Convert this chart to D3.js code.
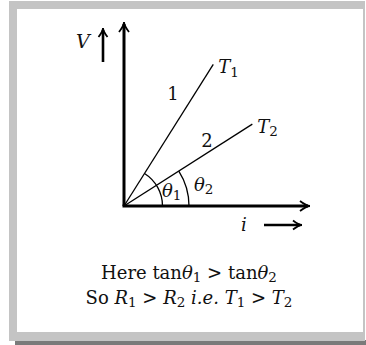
<!DOCTYPE html>
<html>
<head>
<meta charset="utf-8">
<script src="https://cdn.jsdelivr.net/npm/d3@7"></script>
<style>
  html, body { margin: 0; padding: 0; background: #fff; }
  svg { display: block; }
  text { font-family: "DejaVu Serif", "Liberation Serif", serif; fill: #111; }
</style>
</head>
<body>
<svg id="chart" width="366" height="345"></svg>
<script>
// V–i characteristics of a conductor at two temperatures
const lineNames = ["1", "2"];
const lineTempSub = ["1", "2"];
const lineEndI = [4.8, 6.9];   // current at the end of each drawn line
const lineEndV = [7.7, 4.45];  // voltage at the end of each drawn line
const axisMax = [10, 10];      // [i, V]
const captionLine1 = [
  { t: "Here tan" }, { t: "\u03B8", i: true }, { t: "1", sub: true },
  { t: " > tan" }, { t: "\u03B8", i: true }, { t: "2", sub: true }
];
const captionLine2 = [
  { t: "So " }, { t: "R", i: true }, { t: "1", sub: true }, { t: " > " },
  { t: "R", i: true }, { t: "2", sub: true }, { t: " " }, { t: "i.e.", i: true },
  { t: " " }, { t: "T", i: true }, { t: "1", sub: true }, { t: " > " },
  { t: "T", i: true }, { t: "2", sub: true }
];

const svg = d3.select("#chart");

// frame: grey border, white panel, dark drop shadow at the bottom
svg.append("rect").attr("x", 15).attr("y", 340).attr("width", 351).attr("height", 5).attr("fill", "#7a7a7a");
svg.append("rect").attr("x", 9).attr("y", 1).attr("width", 356).attr("height", 340).attr("fill", "#c4c4c4");
svg.append("rect").attr("x", 17).attr("y", 9).attr("width", 346).attr("height", 323).attr("fill", "#fff");

const x = d3.scaleLinear().domain([0, axisMax[0]]).range([124, 310]);
const y = d3.scaleLinear().domain([0, axisMax[1]]).range([206, 22]);

const g = svg.append("g");

// arrowhead path pointing along +x, tip at origin
function head(len, half) {
  return `M${-len},${-half} Q${-len * 0.35},0 0,0 Q${-len * 0.35},0 ${-len},${half}`;
}

// axes
g.append("line").attr("x1", x(0)).attr("y1", y(0)).attr("x2", x(0)).attr("y2", y(axisMax[1]) + 2)
  .attr("stroke", "#000").attr("stroke-width", 3);
g.append("line").attr("x1", x(0) - 1.5).attr("y1", y(0)).attr("x2", x(axisMax[0]) - 2).attr("y2", y(0))
  .attr("stroke", "#000").attr("stroke-width", 3);
g.append("path").attr("d", head(10, 5)).attr("transform", `translate(${x(0)},${y(axisMax[1])}) rotate(-90)`)
  .attr("fill", "none").attr("stroke", "#000").attr("stroke-width", 1.8);
g.append("path").attr("d", head(10, 5)).attr("transform", `translate(${x(axisMax[0])},${y(0)})`)
  .attr("fill", "none").attr("stroke", "#000").attr("stroke-width", 1.8);

// the two straight lines
const lines = lineNames.map((n, k) => ({ name: n, sub: lineTempSub[k], i: lineEndI[k], v: lineEndV[k] }));
lines.forEach(d => {
  d.px = x(d.i); d.py = y(d.v);
  d.ang = Math.atan2(y(0) - d.py, d.px - x(0));
});
g.selectAll(".vi").data(lines).join("line")
  .attr("x1", x(0)).attr("y1", y(0)).attr("x2", d => d.px).attr("y2", d => d.py)
  .attr("stroke", "#000").attr("stroke-width", 1.3);

// angle arcs
const radii = [38.5, 65];
lines.forEach((d, k) => {
  const arc = d3.arc().innerRadius(radii[k]).outerRadius(radii[k])
    .startAngle(Math.PI / 2 - d.ang).endAngle(Math.PI / 2);
  g.append("path").attr("d", arc()).attr("transform", `translate(${x(0)},${y(0)})`)
    .attr("fill", "none").attr("stroke", "#000").attr("stroke-width", 1.3);
});

// rich text helper: italic pieces and subscripts
function rich(px, py, parts, size, anchor) {
  const t = g.append("text").attr("x", px).attr("y", py).attr("font-size", size)
    .attr("text-anchor", anchor || "start");
  let lowered = false;
  parts.forEach(p => {
    const s = t.append("tspan").text(p.t);
    if (p.i) s.attr("font-style", "italic");
    if (p.sub) { s.attr("font-size", size * 0.75).attr("dy", size * 0.18); lowered = true; }
    else if (lowered) { s.attr("dy", -size * 0.18); lowered = false; }
  });
  return t;
}

// line numbers and temperature labels
const numPos = [[173, 100], [207, 147]];
lines.forEach((d, k) => {
  g.append("text").attr("x", numPos[k][0]).attr("y", numPos[k][1]).attr("font-size", 18)
    .attr("text-anchor", "middle").text(d.name);
  rich(d.px + 5, d.py + 9, [{ t: "T", i: true }, { t: d.sub, sub: true }], 18);
});

// angle labels
rich(162, 197, [{ t: "\u03B8", i: true }, { t: "1", sub: true }], 18);
rich(194, 191, [{ t: "\u03B8", i: true }, { t: "2", sub: true }], 18);

// axis names with their direction arrows
rich(76, 48, [{ t: "V", i: true }], 19);
g.append("line").attr("x1", 103).attr("y1", 62).attr("x2", 103).attr("y2", 30)
  .attr("stroke", "#000").attr("stroke-width", 2.6);
g.append("path").attr("d", head(9, 4.5)).attr("transform", "translate(103,28) rotate(-90)")
  .attr("fill", "none").attr("stroke", "#000").attr("stroke-width", 1.8);
rich(241, 231, [{ t: "i", i: true }], 18);
g.append("line").attr("x1", 264).attr("y1", 225).attr("x2", 300).attr("y2", 225)
  .attr("stroke", "#000").attr("stroke-width", 2.6);
g.append("path").attr("d", head(9, 4.5)).attr("transform", "translate(302,225)")
  .attr("fill", "none").attr("stroke", "#000").attr("stroke-width", 1.8);

// caption
rich(189, 279, captionLine1, 18, "middle");
rich(189, 304, captionLine2, 18, "middle");
</script>
</body>
</html>
